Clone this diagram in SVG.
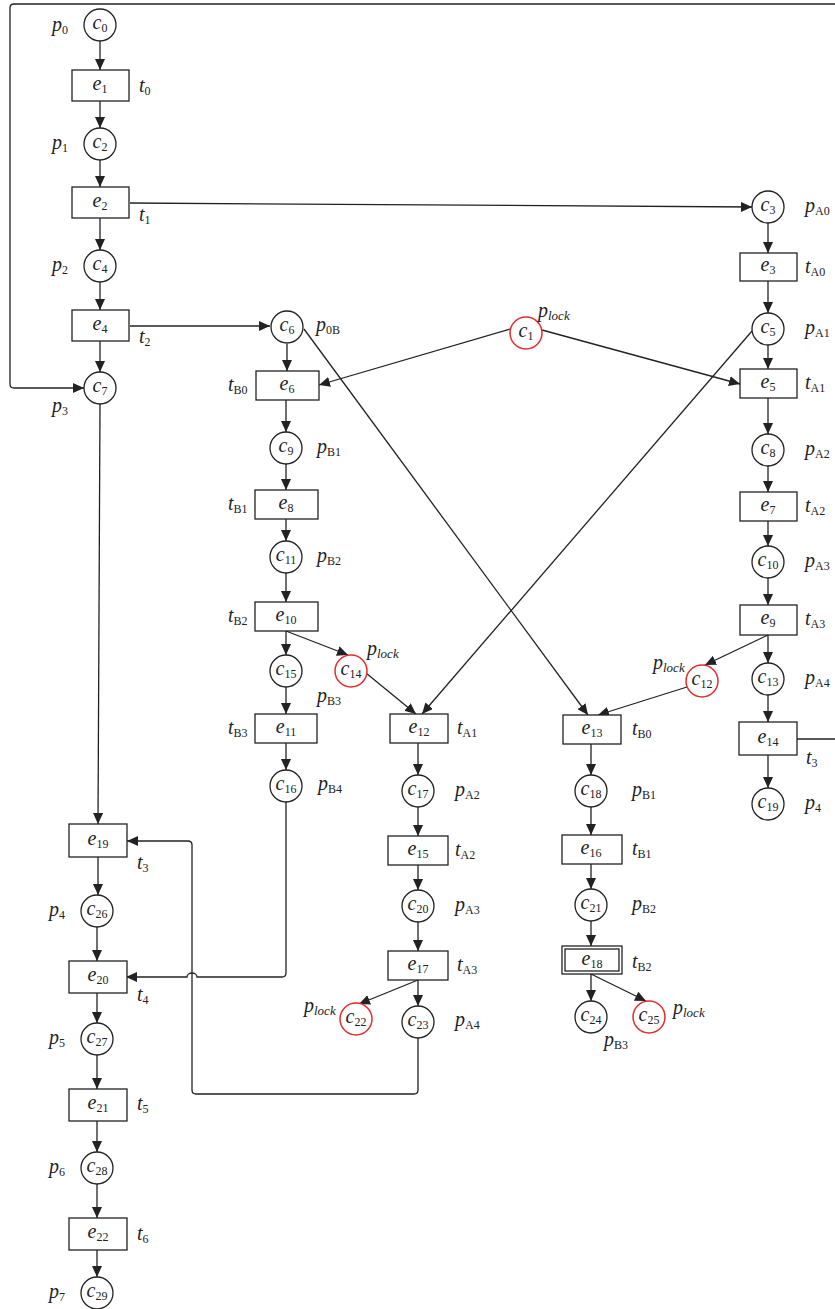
<svg xmlns="http://www.w3.org/2000/svg" width="835" height="1309" viewBox="0 0 835 1309">
<defs>
<marker id="ah" markerUnits="userSpaceOnUse" markerWidth="12" markerHeight="10" refX="11" refY="5" orient="auto">
<path d="M0,0 L11,5 L0,10 z" fill="#222"/>
</marker>
<style>
.n{fill:#fff;stroke:#222;stroke-width:1.3}
.r{fill:#fff;stroke:#e52b2b;stroke-width:1.5}
.b{fill:#fff;stroke:#222;stroke-width:1.3}
.b2{fill:none;stroke:#222;stroke-width:1.3}
.e{fill:none;stroke:#222;stroke-width:1.3;marker-end:url(#ah)}
.f{fill:none;stroke:#222;stroke-width:1.3}
text{font-family:'Liberation Serif','DejaVu Serif',serif;font-size:20px;font-style:italic;fill:#222}
.m{text-anchor:middle}
.s{font-size:12px;font-style:normal}
.si{font-size:13px;font-style:italic}
</style>
</defs>
<rect width="835" height="1309" fill="#fff"/>
<g id="connectors">
<path class="f" d="M797,739 H845 V4 H14 Q10,4 10,8 V384 Q10,388 14,388 H84" marker-end="url(#ah)"/>
<path class="e" d="M100,41V70"/>
<path class="e" d="M100,101V128"/>
<path class="e" d="M100,160V187"/>
<path class="e" d="M100,218V250"/>
<path class="e" d="M100,282V310"/>
<path class="e" d="M100,341V372"/>
<path class="e" d="M100,404L98,824"/>
<path class="e" d="M98,857V895"/>
<path class="e" d="M97,927V961"/>
<path class="e" d="M97,993V1023"/>
<path class="e" d="M97,1055V1089"/>
<path class="e" d="M97,1121V1152"/>
<path class="e" d="M97,1184V1218"/>
<path class="e" d="M97,1250V1277"/>
<path class="e" d="M130,203L752,207"/>
<path class="e" d="M130,326H270"/>
<path class="e" d="M768,223V253"/>
<path class="e" d="M768,281V313"/>
<path class="e" d="M768,345V369"/>
<path class="e" d="M768,398V434"/>
<path class="e" d="M768,466V492"/>
<path class="e" d="M768,521V546"/>
<path class="e" d="M768,578V605"/>
<path class="e" d="M768,635V663"/>
<path class="e" d="M768,635L705,665"/>
<path class="e" d="M768,695V722"/>
<path class="e" d="M768,755V788"/>
<path class="e" d="M287,344V371"/>
<path class="e" d="M286,400V432"/>
<path class="e" d="M286,464V490"/>
<path class="e" d="M286,519V541"/>
<path class="e" d="M286,573V602"/>
<path class="e" d="M286,631V655"/>
<path class="e" d="M286,631L348,655"/>
<path class="e" d="M286,687V714"/>
<path class="e" d="M286,743V770"/>
<path class="e" d="M510,329L319,385"/>
<path class="e" d="M542,330L740,384"/>
<path class="e" d="M304,329L588,715"/>
<path class="e" d="M752,331L422,714"/>
<path class="e" d="M366,673L416,714"/>
<path class="e" d="M687,687L598,715"/>
<path class="e" d="M418,743V775"/>
<path class="e" d="M418,807V836"/>
<path class="e" d="M418,865V890"/>
<path class="e" d="M418,922V951"/>
<path class="e" d="M418,980V1006"/>
<path class="e" d="M418,980L359,1004"/>
<path class="e" d="M591,744V775"/>
<path class="e" d="M591,807V835"/>
<path class="e" d="M591,864V889"/>
<path class="e" d="M591,921V946"/>
<path class="e" d="M591,974V1001"/>
<path class="e" d="M591,974L646,1001"/>
<path class="e" d="M286,802V973 Q286,977 282,977 H197 A5,4 0 0 0 187,977 H126"/>
<path class="e" d="M418,1038V1090 Q418,1094 414,1094 H196 Q192,1094 192,1090 V845 Q192,841 188,841 H127"/>
</g>
<g id="c0"><circle class="n" cx="100" cy="25" r="16"/><text class="m" x="100" y="29">c<tspan class="s" dy="3">0</tspan></text><text x="52" y="31">p<tspan class="s" dy="3">0</tspan></text></g>
<g id="e1"><rect class="b" x="72" y="70" width="57" height="31"/><text class="m" x="100" y="90">e<tspan class="s" dy="3">1</tspan></text><text x="139" y="92">t<tspan class="s" dy="3">0</tspan></text></g>
<g id="c2"><circle class="n" cx="100" cy="144" r="16"/><text class="m" x="100" y="148">c<tspan class="s" dy="3">2</tspan></text><text x="52" y="149">p<tspan class="s" dy="3">1</tspan></text></g>
<g id="e2"><rect class="b" x="72" y="187" width="57" height="31"/><text class="m" x="100" y="207">e<tspan class="s" dy="3">2</tspan></text><text x="139" y="221">t<tspan class="s" dy="3">1</tspan></text></g>
<g id="c4"><circle class="n" cx="100" cy="266" r="16"/><text class="m" x="100" y="270">c<tspan class="s" dy="3">4</tspan></text><text x="52" y="271">p<tspan class="s" dy="3">2</tspan></text></g>
<g id="e4"><rect class="b" x="72" y="310" width="57" height="31"/><text class="m" x="100" y="330">e<tspan class="s" dy="3">4</tspan></text><text x="139" y="343">t<tspan class="s" dy="3">2</tspan></text></g>
<g id="c7"><circle class="n" cx="100" cy="388" r="16"/><text class="m" x="100" y="392">c<tspan class="s" dy="3">7</tspan></text><text x="52" y="412">p<tspan class="s" dy="3">3</tspan></text></g>
<g id="c3"><circle class="n" cx="768" cy="207" r="16"/><text class="m" x="768" y="211">c<tspan class="s" dy="3">3</tspan></text><text x="805" y="212">p<tspan class="s" dy="3">A0</tspan></text></g>
<g id="e3"><rect class="b" x="740" y="253" width="57" height="28"/><text class="m" x="768" y="271">e<tspan class="s" dy="3">3</tspan></text><text x="805" y="273">t<tspan class="s" dy="3">A0</tspan></text></g>
<g id="c5"><circle class="n" cx="768" cy="329" r="16"/><text class="m" x="768" y="333">c<tspan class="s" dy="3">5</tspan></text><text x="805" y="334">p<tspan class="s" dy="3">A1</tspan></text></g>
<g id="e5"><rect class="b" x="740" y="369" width="57" height="29"/><text class="m" x="768" y="388">e<tspan class="s" dy="3">5</tspan></text><text x="805" y="389">t<tspan class="s" dy="3">A1</tspan></text></g>
<g id="c8"><circle class="n" cx="768" cy="450" r="16"/><text class="m" x="768" y="454">c<tspan class="s" dy="3">8</tspan></text><text x="805" y="455">p<tspan class="s" dy="3">A2</tspan></text></g>
<g id="e7"><rect class="b" x="740" y="492" width="57" height="29"/><text class="m" x="768" y="511">e<tspan class="s" dy="3">7</tspan></text><text x="805" y="512">t<tspan class="s" dy="3">A2</tspan></text></g>
<g id="c10"><circle class="n" cx="768" cy="562" r="16"/><text class="m" x="768" y="566">c<tspan class="s" dy="3">10</tspan></text><text x="805" y="567">p<tspan class="s" dy="3">A3</tspan></text></g>
<g id="e9"><rect class="b" x="740" y="605" width="57" height="30"/><text class="m" x="768" y="624">e<tspan class="s" dy="3">9</tspan></text><text x="805" y="625">t<tspan class="s" dy="3">A3</tspan></text></g>
<g id="c13"><circle class="n" cx="768" cy="679" r="16"/><text class="m" x="768" y="683">c<tspan class="s" dy="3">13</tspan></text><text x="805" y="684">p<tspan class="s" dy="3">A4</tspan></text></g>
<g id="c12"><circle class="r" cx="702" cy="681" r="16"/><text class="m" x="702" y="685">c<tspan class="s" dy="3">12</tspan></text><text x="653" y="669">p<tspan class="si" dy="3">lock</tspan></text></g>
<g id="e14"><rect class="b" x="739" y="722" width="58" height="33"/><text class="m" x="768" y="743">e<tspan class="s" dy="3">14</tspan></text><text x="806" y="764">t<tspan class="s" dy="3">3</tspan></text></g>
<g id="c19"><circle class="n" cx="768" cy="804" r="16"/><text class="m" x="768" y="808">c<tspan class="s" dy="3">19</tspan></text><text x="805" y="809">p<tspan class="s" dy="3">4</tspan></text></g>
<g id="c1"><circle class="r" cx="526" cy="333" r="16"/><text class="m" x="526" y="337">c<tspan class="s" dy="3">1</tspan></text><text x="538" y="317">p<tspan class="si" dy="3">lock</tspan></text></g>
<g id="c6"><circle class="n" cx="287" cy="327" r="16"/><text class="m" x="287" y="331">c<tspan class="s" dy="3">6</tspan></text><text x="316" y="331">p<tspan class="s" dy="3">0B</tspan></text></g>
<g id="e6"><rect class="b" x="256" y="371" width="63" height="29"/><text class="m" x="287" y="390">e<tspan class="s" dy="3">6</tspan></text><text x="228" y="391">t<tspan class="s" dy="3">B0</tspan></text></g>
<g id="c9"><circle class="n" cx="286" cy="448" r="16"/><text class="m" x="286" y="452">c<tspan class="s" dy="3">9</tspan></text><text x="317" y="453">p<tspan class="s" dy="3">B1</tspan></text></g>
<g id="e8"><rect class="b" x="255" y="490" width="63" height="29"/><text class="m" x="286" y="509">e<tspan class="s" dy="3">8</tspan></text><text x="228" y="510">t<tspan class="s" dy="3">B1</tspan></text></g>
<g id="c11"><circle class="n" cx="286" cy="557" r="16"/><text class="m" x="286" y="561">c<tspan class="s" dy="3">11</tspan></text><text x="317" y="562">p<tspan class="s" dy="3">B2</tspan></text></g>
<g id="e10"><rect class="b" x="255" y="602" width="63" height="29"/><text class="m" x="286" y="621">e<tspan class="s" dy="3">10</tspan></text><text x="228" y="622">t<tspan class="s" dy="3">B2</tspan></text></g>
<g id="c15"><circle class="n" cx="286" cy="671" r="16"/><text class="m" x="286" y="675">c<tspan class="s" dy="3">15</tspan></text><text x="317" y="702">p<tspan class="s" dy="3">B3</tspan></text></g>
<g id="c14"><circle class="r" cx="351" cy="671" r="16"/><text class="m" x="351" y="675">c<tspan class="s" dy="3">14</tspan></text><text x="367" y="655">p<tspan class="si" dy="3">lock</tspan></text></g>
<g id="e11"><rect class="b" x="255" y="714" width="62" height="29"/><text class="m" x="286" y="733">e<tspan class="s" dy="3">11</tspan></text><text x="228" y="734">t<tspan class="s" dy="3">B3</tspan></text></g>
<g id="c16"><circle class="n" cx="286" cy="786" r="16"/><text class="m" x="286" y="790">c<tspan class="s" dy="3">16</tspan></text><text x="318" y="790">p<tspan class="s" dy="3">B4</tspan></text></g>
<g id="e12"><rect class="b" x="390" y="714" width="58" height="29"/><text class="m" x="419" y="733">e<tspan class="s" dy="3">12</tspan></text><text x="457" y="734">t<tspan class="s" dy="3">A1</tspan></text></g>
<g id="c17"><circle class="n" cx="418" cy="791" r="16"/><text class="m" x="418" y="795">c<tspan class="s" dy="3">17</tspan></text><text x="455" y="796">p<tspan class="s" dy="3">A2</tspan></text></g>
<g id="e15"><rect class="b" x="388" y="836" width="60" height="29"/><text class="m" x="418" y="855">e<tspan class="s" dy="3">15</tspan></text><text x="455" y="856">t<tspan class="s" dy="3">A2</tspan></text></g>
<g id="c20"><circle class="n" cx="418" cy="906" r="16"/><text class="m" x="418" y="910">c<tspan class="s" dy="3">20</tspan></text><text x="455" y="911">p<tspan class="s" dy="3">A3</tspan></text></g>
<g id="e17"><rect class="b" x="388" y="951" width="60" height="29"/><text class="m" x="418" y="970">e<tspan class="s" dy="3">17</tspan></text><text x="457" y="971">t<tspan class="s" dy="3">A3</tspan></text></g>
<g id="c22"><circle class="r" cx="356" cy="1019" r="16"/><text class="m" x="356" y="1023">c<tspan class="s" dy="3">22</tspan></text><text x="304" y="1012">p<tspan class="si" dy="3">lock</tspan></text></g>
<g id="c23"><circle class="n" cx="418" cy="1022" r="16"/><text class="m" x="418" y="1026">c<tspan class="s" dy="3">23</tspan></text><text x="455" y="1026">p<tspan class="s" dy="3">A4</tspan></text></g>
<g id="e13"><rect class="b" x="563" y="715" width="58" height="29"/><text class="m" x="592" y="734">e<tspan class="s" dy="3">13</tspan></text><text x="632" y="735">t<tspan class="s" dy="3">B0</tspan></text></g>
<g id="c18"><circle class="n" cx="591" cy="791" r="16"/><text class="m" x="591" y="795">c<tspan class="s" dy="3">18</tspan></text><text x="632" y="796">p<tspan class="s" dy="3">B1</tspan></text></g>
<g id="e16"><rect class="b" x="562" y="835" width="60" height="29"/><text class="m" x="591" y="854">e<tspan class="s" dy="3">16</tspan></text><text x="632" y="855">t<tspan class="s" dy="3">B1</tspan></text></g>
<g id="c21"><circle class="n" cx="591" cy="905" r="16"/><text class="m" x="591" y="909">c<tspan class="s" dy="3">21</tspan></text><text x="632" y="910">p<tspan class="s" dy="3">B2</tspan></text></g>
<g id="e18"><rect class="b" x="562" y="946" width="60" height="28"/><rect class="b2" x="565" y="949" width="54" height="22"/><text class="m" x="592" y="965">e<tspan class="s" dy="3">18</tspan></text><text x="632" y="968">t<tspan class="s" dy="3">B2</tspan></text></g>
<g id="c24"><circle class="n" cx="591" cy="1017" r="16"/><text class="m" x="591" y="1021">c<tspan class="s" dy="3">24</tspan></text><text x="604" y="1046">p<tspan class="s" dy="3">B3</tspan></text></g>
<g id="c25"><circle class="r" cx="649" cy="1017" r="16"/><text class="m" x="649" y="1021">c<tspan class="s" dy="3">25</tspan></text><text x="673" y="1014">p<tspan class="si" dy="3">lock</tspan></text></g>
<g id="e19"><rect class="b" x="69" y="824" width="58" height="33"/><text class="m" x="98" y="845">e<tspan class="s" dy="3">19</tspan></text><text x="137" y="869">t<tspan class="s" dy="3">3</tspan></text></g>
<g id="c26"><circle class="n" cx="97" cy="911" r="16"/><text class="m" x="97" y="915">c<tspan class="s" dy="3">26</tspan></text><text x="49" y="916">p<tspan class="s" dy="3">4</tspan></text></g>
<g id="e20"><rect class="b" x="69" y="961" width="58" height="32"/><text class="m" x="98" y="981">e<tspan class="s" dy="3">20</tspan></text><text x="137" y="1001">t<tspan class="s" dy="3">4</tspan></text></g>
<g id="c27"><circle class="n" cx="97" cy="1039" r="16"/><text class="m" x="97" y="1043">c<tspan class="s" dy="3">27</tspan></text><text x="49" y="1044">p<tspan class="s" dy="3">5</tspan></text></g>
<g id="e21"><rect class="b" x="69" y="1089" width="58" height="32"/><text class="m" x="98" y="1109">e<tspan class="s" dy="3">21</tspan></text><text x="137" y="1110">t<tspan class="s" dy="3">5</tspan></text></g>
<g id="c28"><circle class="n" cx="97" cy="1168" r="16"/><text class="m" x="97" y="1172">c<tspan class="s" dy="3">28</tspan></text><text x="49" y="1173">p<tspan class="s" dy="3">6</tspan></text></g>
<g id="e22"><rect class="b" x="69" y="1218" width="58" height="32"/><text class="m" x="98" y="1238">e<tspan class="s" dy="3">22</tspan></text><text x="137" y="1240">t<tspan class="s" dy="3">6</tspan></text></g>
<g id="c29"><circle class="n" cx="97" cy="1293" r="16"/><text class="m" x="97" y="1297">c<tspan class="s" dy="3">29</tspan></text><text x="49" y="1298">p<tspan class="s" dy="3">7</tspan></text></g>
</svg>
